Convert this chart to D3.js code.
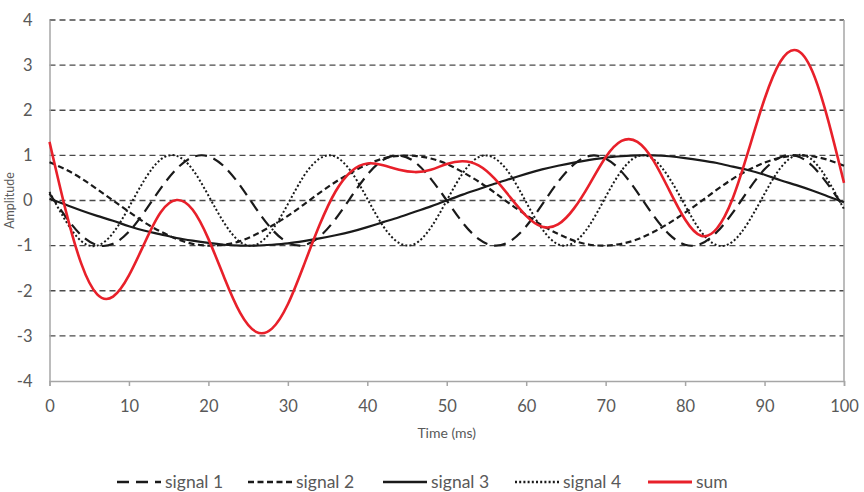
<!DOCTYPE html>
<html>
<head>
<meta charset="utf-8">
<script src="https://cdn.jsdelivr.net/npm/d3@7"></script>
<style>
  body { margin: 0; background: #fff; }
  svg { display: block; }
  text { font-family: Lato, "Open Sans", sans-serif; fill: #595959; }
</style>
</head>
<body>
<div class="chart"></div>
<script>
const width = 864;
const height = 492;

// time in ms
const time = [0, 2, 4, 6, 8, 10, 12, 14, 16, 18, 20, 22, 24, 26, 28, 30, 32, 34, 36, 38, 40,
  42, 44, 46, 48, 50, 52, 54, 56, 58, 60, 62, 64, 66, 68, 70, 72, 74, 76, 78, 80,
  82, 84, 86, 88, 90, 92, 94, 96, 98, 100];

const signal1 = [0.15, -0.35, -0.77, -0.99, -0.96, -0.69, -0.24, 0.27, 0.70, 0.96, 0.98,
  0.75, 0.33, -0.18, -0.64, -0.93, -0.99, -0.80, -0.41, 0.09, 0.57,
  0.90, 1.00, 0.85, 0.48, 0, -0.49, -0.85, -1.00, -0.90, -0.57,
  -0.09, 0.41, 0.80, 0.99, 0.93, 0.64, 0.18, -0.33, -0.75, -0.98,
  -0.96, -0.70, -0.27, 0.24, 0.69, 0.96, 0.99, 0.77, 0.35, -0.15];

const signal2 = [0.85, 0.69, 0.49, 0.25, 0.00, -0.25, -0.49, -0.69, -0.85, -0.96, -1.00,
  -0.98, -0.90, -0.75, -0.56, -0.34, -0.09, 0.17, 0.41, 0.62, 0.80,
  0.93, 0.99, 0.99, 0.93, 0.81, 0.63, 0.42, 0.18, -0.08, -0.32,
  -0.55, -0.74, -0.89, -0.98, -1.00, -0.96, -0.86, -0.70, -0.50, -0.27,
  -0.02, 0.24, 0.48, 0.68, 0.84, 0.95, 1.00, 0.98, 0.90, 0.77];

const signal3 = [0.04, -0.09, -0.22, -0.34, -0.45, -0.57, -0.67, -0.75, -0.83, -0.89, -0.94,
  -0.98, -1.00, -1.00, -0.98, -0.95, -0.90, -0.84, -0.77, -0.69, -0.59,
  -0.48, -0.37, -0.25, -0.13, 0, 0.13, 0.25, 0.37, 0.48, 0.59,
  0.69, 0.77, 0.84, 0.90, 0.95, 0.98, 1.00, 1.00, 0.98, 0.94,
  0.89, 0.83, 0.75, 0.67, 0.57, 0.45, 0.34, 0.22, 0.09, -0.04];

const signal4 = [0.19, -0.44, -0.90, -1.00, -0.72, -0.15, 0.47, 0.91, 0.99, 0.69, 0.11,
  -0.50, -0.92, -0.98, -0.66, -0.08, 0.54, 0.93, 0.97, 0.63, 0.04,
  -0.57, -0.94, -0.96, -0.60, 0, 0.60, 0.96, 0.94, 0.57, -0.04,
  -0.63, -0.97, -0.93, -0.54, 0.08, 0.66, 0.98, 0.92, 0.50, -0.11,
  -0.69, -0.99, -0.91, -0.47, 0.15, 0.72, 1.00, 0.90, 0.44, -0.19];

const sum = [1.30, -0.19, -1.40, -2.08, -2.13, -1.66, -0.93, -0.26, 0.01, -0.20, -0.85,
  -1.71, -2.49, -2.91, -2.84, -2.30, -1.44, -0.54, 0.20, 0.65, 0.82,
  0.78, 0.68, 0.63, 0.68, 0.81, 0.87, 0.78, 0.49, 0.07, -0.34,
  -0.58, -0.53, -0.18, 0.37, 0.96, 1.32, 1.30, 0.89, 0.23, -0.42,
  -0.78, -0.62, 0.05, 1.12, 2.25, 3.08, 3.33, 2.87, 1.78, 0.39];

const seriesNames = ["signal 1", "signal 2", "signal 3", "signal 4", "sum"];
const xTicks = [0, 10, 20, 30, 40, 50, 60, 70, 80, 90, 100];
const yTicks = [-4, -3, -2, -1, 0, 1, 2, 3, 4];

const series = [signal1, signal2, signal3, signal4, sum];
const styles = [
  { color: "#1a1a1a", dash: "12,7", w: 2.2 },
  { color: "#1a1a1a", dash: "6,3.5", w: 2.2 },
  { color: "#1a1a1a", dash: null, w: 2.2 },
  { color: "#1a1a1a", dash: "2,2.2", w: 2 },
  { color: "#e8202a", dash: null, w: 2.6 }
];

const x = d3.scaleLinear().domain([0, 100]).range([49.5, 844]);
const y = d3.scaleLinear().domain([-4, 4]).range([381, 20]);

const svg = d3.select(".chart")
  .append("svg")
  .attr("width", width)
  .attr("height", height);

// gridlines
svg.append("g")
  .selectAll("line")
  .data(yTicks.filter(d => d > -4))
  .join("line")
  .attr("x1", x(0))
  .attr("x2", x(100))
  .attr("y1", d => y(d))
  .attr("y2", d => y(d))
  .attr("stroke", "#4a4a4a")
  .attr("stroke-width", 1.4)
  .attr("stroke-dasharray", "6,4");

// right border
svg.append("line")
  .attr("x1", x(100)).attr("x2", x(100))
  .attr("y1", y(4)).attr("y2", y(-4))
  .attr("stroke", "#a6a6a6")
  .attr("stroke-width", 1.5);

// axes
const xAxis = svg.append("g")
  .attr("transform", `translate(0,${y(-4)})`)
  .call(d3.axisBottom(x).tickValues(xTicks).tickSize(5).tickPadding(14));

const yAxis = svg.append("g")
  .attr("transform", `translate(${x(0)},0)`)
  .call(d3.axisLeft(y).tickValues(yTicks).tickFormat(d => String(d)).tickSize(0).tickPadding(17));

[xAxis, yAxis].forEach(ax => {
  ax.select(".domain").attr("stroke", "#a6a6a6").attr("stroke-width", 1.5);
  ax.selectAll(".tick line").attr("stroke", "#a6a6a6").attr("stroke-width", 1.5);
  ax.selectAll(".tick text")
    .style("font-family", "Lato, 'Open Sans', sans-serif")
    .style("font-size", "16.5px")
    .attr("fill", "#6b6b6b");
});

// lines
const line = d3.line()
  .x((d, i) => x(time[i]))
  .y(d => y(d))
  .curve(d3.curveNatural);

series.forEach((s, i) => {
  svg.append("path")
    .datum(s)
    .attr("d", line)
    .attr("fill", "none")
    .attr("stroke", styles[i].color)
    .attr("stroke-width", styles[i].w)
    .attr("stroke-dasharray", styles[i].dash);
});

// axis titles
svg.append("text")
  .attr("x", (x(0) + x(100)) / 2)
  .attr("y", 438)
  .attr("text-anchor", "middle")
  .style("font-size", "14px")
  .attr("fill", "#808080")
  .text("Time (ms)");

svg.append("text")
  .attr("transform", `translate(14,${y(0)}) rotate(-90)`)
  .attr("text-anchor", "middle")
  .style("font-size", "12.5px")
  .attr("fill", "#808080")
  .text("Amplitude");

// legend
const legendX = [117, 248, 383, 515, 648];
const legend = svg.append("g")
  .selectAll("g")
  .data(seriesNames)
  .join("g")
  .attr("transform", (d, i) => `translate(${legendX[i]},482)`);

legend.append("line")
  .attr("x1", 0).attr("x2", 44)
  .attr("stroke", (d, i) => styles[i].color)
  .attr("stroke-width", (d, i) => styles[i].w + 0.4)
  .attr("stroke-dasharray", (d, i) => styles[i].dash);

legend.append("text")
  .attr("x", 48)
  .attr("dy", "0.35em")
  .style("font-size", "17.5px")
  .attr("fill", "#6b6b6b")
  .text(d => d);
</script>
</body>
</html>
